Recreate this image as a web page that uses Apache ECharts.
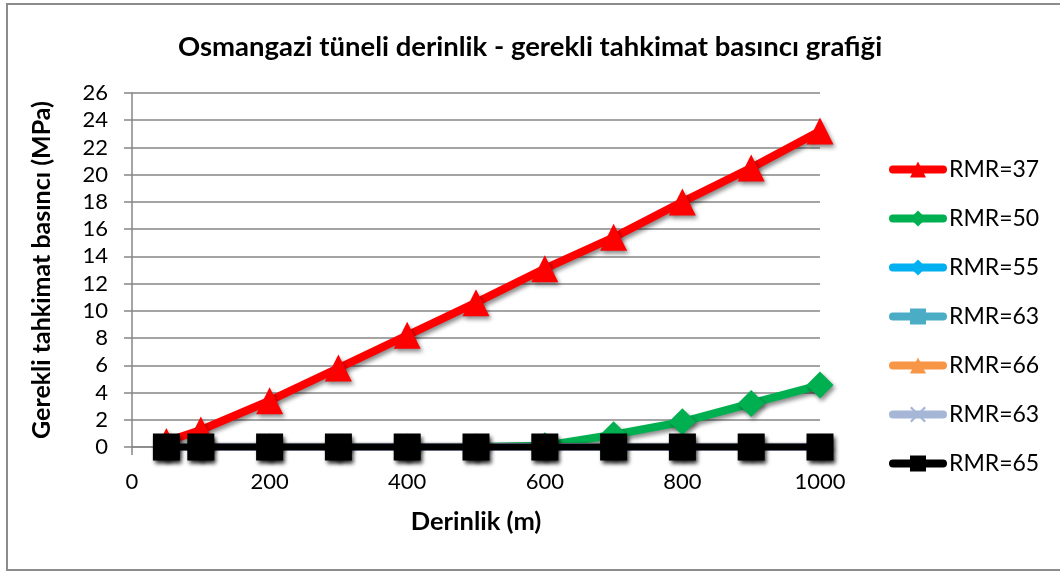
<!DOCTYPE html>
<html>
<head>
<meta charset="utf-8">
<script src="https://cdn.jsdelivr.net/npm/echarts@6/dist/echarts.min.js"></script>
<style>
  html, body { margin: 0; padding: 0; background: #fff; }
  #chart { width: 1060px; height: 572px; }
</style>
</head>
<body>
<div id="chart"></div>
<script>
// Depth (m) at which support pressure was computed
const depths = [50, 100, 200, 300, 400, 500, 600, 700, 800, 900, 1000];

// Required support pressure (MPa) per rock mass class
const rmr37 = [0.4, 1.25, 3.4, 5.8, 8.2, 10.6, 13.1, 15.4, 18.0, 20.5, 23.2];
const rmr50 = [0, 0, 0, 0, 0, 0, 0.1, 0.9, 1.85, 3.2, 4.55];
const rmr55 = [0, 0, 0, 0, 0, 0, 0, 0, 0, 0, 0];
const rmr63a = [0, 0, 0, 0, 0, 0, 0, 0, 0, 0, 0];
const rmr66 = [0, 0, 0, 0, 0, 0, 0, 0, 0, 0, 0];
const rmr63b = [0, 0, 0, 0, 0, 0, 0, 0, 0, 0, 0];
const rmr65 = [0, 0, 0, 0, 0, 0, 0, 0, 0, 0, 0];

const seriesLabels = ['RMR=37', 'RMR=50', 'RMR=55', 'RMR=63', 'RMR=66', 'RMR=63', 'RMR=65'];
const seriesValues = [rmr37, rmr50, rmr55, rmr63a, rmr66, rmr63b, rmr65];

const crossPath = 'path://M0,1 L1,0 L5,4 L9,0 L10,1 L6,5 L10,9 L9,10 L5,6 L1,10 L0,9 L4,5 Z';
const styles = [
  { color: '#ff0000', symbol: 'triangle', size: 27, width: 8 },
  { color: '#00b050', symbol: 'diamond', size: 27, width: 8 },
  { color: '#00b0f0', symbol: 'diamond', size: 26, width: 8 },
  { color: '#4bacc6', symbol: 'rect', size: 24, width: 8 },
  { color: '#f79646', symbol: 'triangle', size: 24, width: 8 },
  { color: '#a5b6d6', symbol: crossPath, size: 22, width: 8 },
  { color: '#000000', symbol: 'rect', size: 27, width: 7 }
];

const FONT = 'Lato';
const shadow = { shadowBlur: 4, shadowOffsetX: 2, shadowOffsetY: 3, shadowColor: 'rgba(0,0,0,0.45)' };

// Later series are drawn on top, so the black zero line covers the others
const series = seriesValues.map((vals, i) => ({
  name: 's' + i,
  type: 'line',
  data: depths.map((d, k) => [d, vals[k]]),
  symbol: styles[i].symbol,
  symbolSize: styles[i].size,
  showAllSymbol: true,
  lineStyle: Object.assign({ color: styles[i].color, width: styles[i].width, cap: 'round' }, shadow),
  itemStyle: Object.assign({ color: styles[i].color, borderWidth: 0 }, shadow),
  emphasis: { disabled: true },
  animation: false
}));

const chart = echarts.init(document.getElementById('chart'), null, { renderer: 'canvas' });
chart.setOption({
  backgroundColor: '#fff',
  animation: false,
  title: {
    text: 'Osmangazi tüneli derinlik - gerekli tahkimat basıncı grafiği',
    left: 'center',
    top: 28,
    textStyle: { fontFamily: FONT, fontWeight: 'bold', fontSize: 27.5, color: '#000' }
  },
  graphic: [{
    type: 'rect',
    shape: { x: 7, y: 4, width: 1070, height: 566 },
    style: { fill: 'none', stroke: '#8c8c8c', lineWidth: 2 },
    silent: true,
    z: -1
  }],
  grid: { left: 132, right: 240, top: 93, bottom: 125 },
  legend: {
    orient: 'vertical',
    left: 884,
    top: 153,
    itemWidth: 50,
    itemHeight: 20,
    itemGap: 26,
    data: series.map(s => s.name),
    formatter: name => seriesLabels[Number(name.slice(1))],
    lineStyle: { width: 8, cap: 'round' },
    textStyle: { fontFamily: FONT, fontSize: 23, color: '#000', padding: [0, 0, 0, 1] },
    selectedMode: false
  },
  xAxis: {
    type: 'value',
    min: 0,
    max: 1000,
    interval: 200,
    name: 'Derinlik (m)',
    nameLocation: 'middle',
    nameGap: 62,
    nameTextStyle: { fontFamily: FONT, fontWeight: 'bold', fontSize: 25.5, color: '#000' },
    axisLine: { show: true, onZero: false, lineStyle: { color: '#868686', width: 1.5 } },
    axisTick: { show: true, length: 8, lineStyle: { color: '#868686', width: 1.5 } },
    axisLabel: { fontFamily: FONT, fontSize: 22, color: '#000', margin: 24, formatter: v => String(v) },
    splitLine: { show: false }
  },
  yAxis: {
    type: 'value',
    min: 0,
    max: 26,
    interval: 2,
    name: 'Gerekli tahkimat basıncı (MPa)',
    nameLocation: 'middle',
    nameGap: 78,
    nameRotate: 90,
    nameTextStyle: { fontFamily: FONT, fontWeight: 'bold', fontSize: 25, color: '#000' },
    axisLine: { show: true, lineStyle: { color: '#868686', width: 1.5 } },
    axisTick: { show: true, length: 8, lineStyle: { color: '#868686', width: 1.5 } },
    axisLabel: { fontFamily: FONT, fontSize: 22, color: '#000', margin: 24 },
    splitLine: { show: true, lineStyle: { color: '#868686', width: 1.5 } }
  },
  series: series
});
</script>
</body>
</html>
